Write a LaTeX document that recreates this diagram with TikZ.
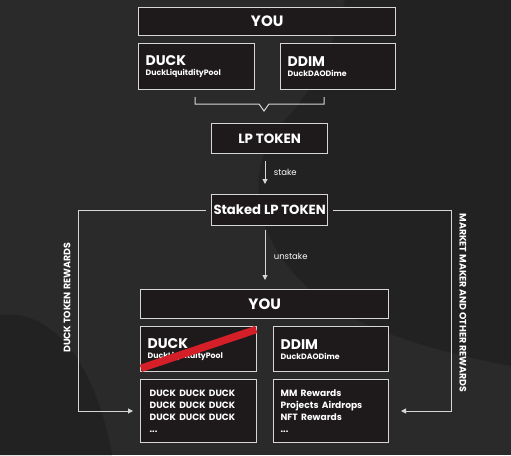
\documentclass[tikz,border=0pt]{standalone}
\usepackage{fontspec}
\setmainfont{Poppins}
\usepackage{tikz}
\usetikzlibrary{arrows.meta}

\definecolor{bgdark}{HTML}{2A2A2A}
\definecolor{bgdeep}{HTML}{222222}
\definecolor{boxfill}{HTML}{1E1A1B}
\definecolor{boxline}{HTML}{D6D6D6}
\definecolor{strike}{HTML}{D51F28}

\tikzset{
  tokenbox/.style={draw=boxline, fill=boxfill, line width=1.3pt, text=white,
    anchor=north west, inner xsep=6pt, inner ysep=2pt},
  flowline/.style={draw=boxline, line width=1pt},
  flowtip/.style={-{Triangle[width=5pt,length=5pt]}},
  sidelabel/.style={text=white, font=\fontsize{9.4}{10}\selectfont\bfseries}
}

\begin{document}
\begin{tikzpicture}[x=1pt,y=-1pt]

% background
\fill[bgdark] (0,0) rectangle (511,455);
\fill[bgdeep] (0,455) -- (0,315) .. controls (50,308) and (95,360) .. (112,455) -- cycle;
\fill[bgdeep] (285,120) .. controls (235,170) and (250,280) .. (380,330) .. controls (430,350) and (480,360) .. (511,366) -- (511,0) -- (345,0) .. controls (330,60) and (305,100) .. (285,120) -- cycle;
\useasboundingbox (0,0) rectangle (511,455);

% first row
\node[tokenbox, minimum width=257pt, minimum height=28pt] (youA) at (138,7)
  {\fontsize{15}{15}\selectfont\bfseries YOU};
\node[tokenbox, minimum width=116pt, minimum height=46pt, text width=102pt, align=left] (duckA) at (138,43)
  {{\fontsize{14}{14}\selectfont\bfseries DUCK}\\[-2pt]{\fontsize{7.8}{9}\selectfont\bfseries DuckLiquitdityPool}};
\node[tokenbox, minimum width=115pt, minimum height=46pt, text width=101pt, align=left] (ddimA) at (280,43)
  {{\fontsize{14}{14}\selectfont\bfseries DDIM}\\[-2pt]{\fontsize{7.8}{9}\selectfont\bfseries DuckDAODime}};

% bracket into LP TOKEN
\coordinate (brL) at (195,97);
\coordinate (brR) at (324,97);
\draw[flowline] (brL) -- (195,104) -- (259,104) -- (264,111) -- (269,104) -- (324,104) -- (brR);

\node[tokenbox, minimum width=116pt, minimum height=30pt] (lp) at (211,123)
  {\fontsize{13.4}{14}\selectfont\bfseries LP TOKEN};
\node[tokenbox, minimum width=116pt, minimum height=31pt, inner xsep=1pt] (staked) at (211,194)
  {\fontsize{13.2}{14}\selectfont\bfseries Staked LP TOKEN};

\coordinate (stakeTop) at (265,161);
\coordinate (stakeEnd) at (265,184);
\draw[flowline, flowtip] (stakeTop) -- (stakeEnd) node[midway, right=5pt, text=white, font=\fontsize{8.5}{9}\selectfont] {stake};

\coordinate (unstakeTop) at (265,230);
\coordinate (unstakeEnd) at (265,280);
\draw[flowline, flowtip] (unstakeTop) -- (unstakeEnd) node[midway, right=5pt, text=white, font=\fontsize{8.5}{9}\selectfont, yshift=-1pt] {unstake};

% second row
\node[tokenbox, minimum width=248pt, minimum height=29pt] (youB) at (140,289)
  {\fontsize{15}{15}\selectfont\bfseries YOU};
\node[tokenbox, minimum width=116pt, minimum height=45pt, text width=102pt, align=left] (duckB) at (140,326)
  {{\fontsize{14}{14}\selectfont\bfseries DUCK}\\[-2pt]{\fontsize{7.8}{9}\selectfont\bfseries DuckLiquitdityPool}};
\node[tokenbox, minimum width=115pt, minimum height=45pt, text width=101pt, align=left] (ddimB) at (273,326)
  {{\fontsize{14}{14}\selectfont\bfseries DDIM}\\[-2pt]{\fontsize{7.8}{9}\selectfont\bfseries DuckDAODime}};
\node[tokenbox, minimum width=116pt, minimum height=63pt, text width=98pt, align=left, inner xsep=8pt] (rewA) at (140,379)
  {\fontsize{9.1}{12}\selectfont\bfseries DUCK DUCK DUCK\\DUCK DUCK DUCK\\DUCK DUCK DUCK\\...};
\node[tokenbox, minimum width=115pt, minimum height=63pt, text width=101pt, align=left] (rewB) at (273,379)
  {\fontsize{9.1}{12}\selectfont\bfseries MM Rewards\\Projects Airdrops\\NFT Rewards\\...};

% crossed out pool
\draw[strike, line width=7.5pt] ([xshift=1pt, yshift=4pt]duckB.south west) -- ([xshift=-1pt, yshift=-3.5pt]duckB.north east);

% reward loops
\coordinate (leftEnd) at (133,411);
\coordinate (rightEnd) at (401,411);
\draw[flowline, flowtip] ([xshift=-5pt]staked.west) -| (78,411) -- (leftEnd);
\draw[flowline, flowtip] ([xshift=5pt]staked.east) -| (451,411) -- (rightEnd);

\node[sidelabel, rotate=90] (duckRew) at (67,298) {DUCK TOKEN REWARDS};
\node[sidelabel, rotate=-90] (mmRew) at (463,303) {MARKET MAKER AND OTHER REWARDS};

\end{tikzpicture}
\end{document}
